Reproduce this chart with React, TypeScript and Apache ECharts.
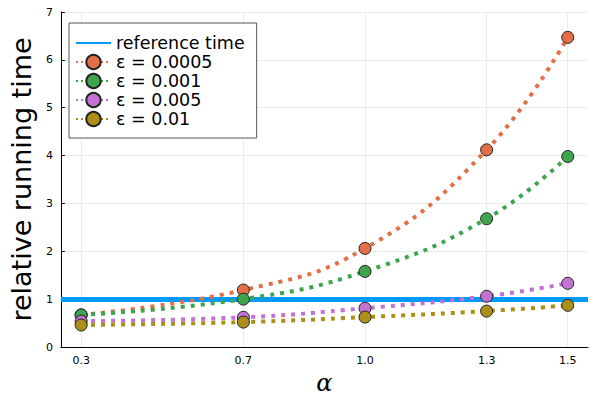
import React, { useEffect, useRef } from "react";
import * as echarts from "echarts";

const ALPHA = [0.3, 0.7, 1.0, 1.3, 1.5];
const EPS_0005 = [0.67, 1.19, 2.06, 4.12, 6.47];
const EPS_001 = [0.67, 1.0, 1.58, 2.68, 3.98];
const EPS_005 = [0.54, 0.62, 0.81, 1.06, 1.33];
const EPS_01 = [0.46, 0.52, 0.625, 0.75, 0.87];
const REF_TIME = 1;
const SERIES_NAMES = ["ε = 0.0005", "ε = 0.001", "ε = 0.005", "ε = 0.01"];
const SERIES_VALUES = [EPS_0005, EPS_001, EPS_005, EPS_01];
const COLORS = ["#E36F47", "#3EA44E", "#C371D2", "#AC8E18"];
const REF_COLOR = "#009AFA";
const FONT = "DejaVu Sans";

export default function App() {
  const ref = useRef<HTMLDivElement>(null);
  useEffect(() => {
    if (!ref.current) return;
    const chart = echarts.init(ref.current, null, { renderer: "svg" });
    const dataSeries = SERIES_NAMES.map((name, i) => ({
      name,
      type: "line",
      smooth: 0.45,
      data: ALPHA.map((a, j) => [a, SERIES_VALUES[i][j]]),
      symbol: "circle",
      symbolSize: 12,
      lineStyle: { color: COLORS[i], width: 4, type: [4, 6], cap: "butt" },
      itemStyle: { color: COLORS[i], borderColor: "#222", borderWidth: 1 },
      z: 3 + i,
    }));
    chart.setOption({
      animation: false,
      backgroundColor: "#fff",
      grid: { left: 51, right: 12, top: 12, bottom: 52 },
      xAxis: {
        type: "value",
        min: 0.25,
        max: 1.55,
        name: "α",
        nameLocation: "middle",
        nameGap: 24,
        nameTextStyle: {
          fontFamily: "DejaVu Serif",
          fontStyle: "italic",
          fontSize: 24,
          color: "#000",
        },
        axisLine: { show: true, lineStyle: { color: "#000", width: 1 } },
        axisTick: { show: true, inside: true, length: 4, customValues: ALPHA, lineStyle: { color: "#000" } },
        axisLabel: {
          customValues: ALPHA,
          formatter: (v: number) => v.toFixed(1),
          fontFamily: FONT,
          fontSize: 11,
          color: "#000",
          margin: 8,
        },
        splitLine: { show: false },
      },
      yAxis: {
        type: "value",
        min: 0,
        max: 7,
        interval: 1,
        name: "relative running time",
        nameLocation: "middle",
        nameGap: 25,
        nameRotate: 90,
        nameTextStyle: { fontFamily: FONT, fontSize: 27, color: "#000" },
        axisLine: { show: true, lineStyle: { color: "#000", width: 1 } },
        axisTick: { show: true, inside: true, length: 4, lineStyle: { color: "#000" } },
        axisLabel: { fontFamily: FONT, fontSize: 11, color: "#000", margin: 8 },
        splitLine: { show: true, lineStyle: { color: "#ececec", width: 1 } },
      },
      legend: {
        orient: "vertical",
        left: 69,
        top: 23,
        padding: [11, 12, 10, 6],
        itemWidth: 35,
        itemHeight: 18,
        itemGap: 1,
        backgroundColor: "#fff",
        borderColor: "#555",
        borderWidth: 1,
        textStyle: { fontFamily: FONT, fontSize: 17.5, color: "#000" },
        data: [
          {
            name: "reference time",
            lineStyle: { width: 2, type: "solid", color: REF_COLOR },
            itemStyle: { color: "rgba(0,0,0,0)", borderColor: "rgba(0,0,0,0)", borderWidth: 0 },
          },
          ...SERIES_NAMES.map((n, i) => ({
            name: n,
            lineStyle: { width: 2, type: [2, 3], color: COLORS[i] },
          })),
        ],
      },
      series: [
        {
          name: "grid-x",
          type: "line",
          data: [],
          silent: true,
          z: 1,
          markLine: {
            silent: true,
            z: 1,
            symbol: "none",
            label: { show: false },
            lineStyle: { color: "#ececec", width: 1, type: "solid" },
            data: ALPHA.map((a) => ({ xAxis: a })),
          },
        },
        {
          name: "reference time",
          type: "line",
          data: [],
          symbol: "none",
          lineStyle: { color: REF_COLOR, width: 2 },
          itemStyle: { color: REF_COLOR },
          z: 2,
          markLine: {
            silent: true,
            z: 2,
            symbol: "none",
            label: { show: false },
            lineStyle: { color: REF_COLOR, width: 5, type: "solid" },
            data: [{ yAxis: REF_TIME }],
          },
        },
        ...dataSeries,
      ],
    });
    return () => chart.dispose();
  }, []);
  return <div ref={ref} style={{ width: 600, height: 400, margin: -8 }} />;
}
